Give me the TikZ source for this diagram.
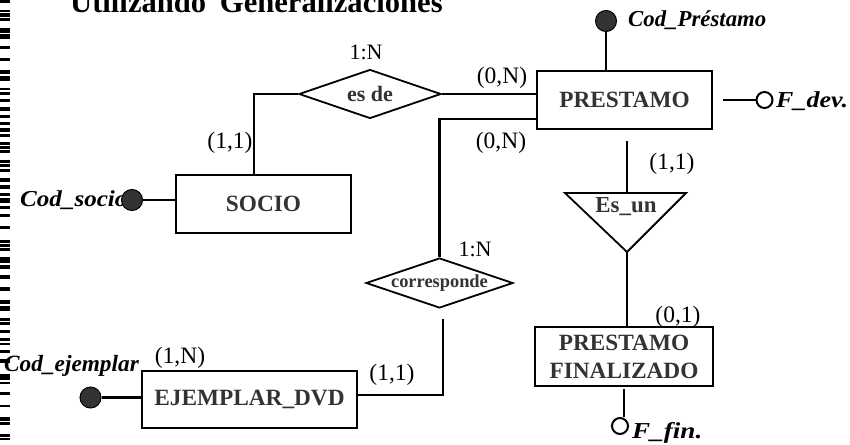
\documentclass[tikz,border=0pt]{standalone}
\usepackage{fontspec}
\setmainfont{Liberation Serif}
\usetikzlibrary{shapes.geometric}
\definecolor{ink}{HTML}{333333}
\tikzset{
  entity/.style={draw, line width=1.8pt, fill=white, text=ink, align=center, inner sep=0pt,
    font=\fontsize{23.3}{28}\selectfont\bfseries},
  relation/.style={draw, diamond, aspect=3, line width=1.8pt, fill=white, text=ink, inner sep=0pt},
  link/.style={line width=2.8pt},
  shapeline/.style={line width=1.8pt, line join=miter},
  card/.style={inner sep=0pt, font=\fontsize{23.5}{24}\selectfont},
  attr/.style={inner sep=0pt, font=\fontsize{22.8}{24}\selectfont\bfseries\itshape},
  keydot/.style={circle, draw, line width=1pt, fill=ink, minimum size=21pt, inner sep=0pt},
  optdot/.style={circle, draw, line width=2pt, fill=white, minimum size=16pt, inner sep=0pt},
}
\begin{document}
\begin{tikzpicture}[x=1pt,y=-1pt]
\useasboundingbox (0,0) rectangle (850,444);

% scan marks along the left edge
\foreach \a/\b in {0/3,10/12,13/17,18/21,28/33,34/39,46/49,58/61,70/74,76/81,88/90,92/95,99/102,
  107/111,115/118,122/125,128/132,134/137,142/145,146/149,150/153,160/163,164/167,169/172,
  178/182,185/189,193/196,198/203,206/209,214/217,226/229,240/243,244/247,248/251,257/263,
  265/269,275/279,287/291,300/304,306/311,318/321,322/325,330/333,338/341,343/345,350/353,
  359/363,374/380,382/384,392/395,405/407,417/421,422/425,434/437,438/440}
  \fill (0,\a) rectangle (10,\b);

% title
\node[anchor=base west, inner sep=0pt, font=\fontsize{30.6}{31}\selectfont\bfseries] (title)
  at (70,12.7) {Utilizando\hspace{0.45em}Generalizaciones};

% entities
\node[entity, minimum width=175pt, minimum height=58pt] (prestamo) at (624.5,100) {PRESTAMO};
\node[entity, minimum width=175pt, minimum height=58pt] (socio) at (263.5,204) {SOCIO};
\node[entity, minimum width=215pt, minimum height=57pt] (ejemplar) at (249.5,399.5) {EJEMPLAR\_DVD};
\node[entity, minimum width=178pt, minimum height=59pt] (finalizado) at (624,356.5) {PRESTAMO\\FINALIZADO};

% relationships
\node[relation, minimum width=142pt, minimum height=49pt,
  font=\fontsize{22}{24}\selectfont\bfseries] (esde) at (370,94) {es de};
\node[relation, minimum width=147pt, minimum height=50pt,
  font=\fontsize{18.4}{20}\selectfont\bfseries] (corresp) at (439.5,283) {corresponde};

% generalisation triangle
\coordinate (esun-left) at (565,193);
\coordinate (esun-right) at (686,193);
\coordinate (esun-apex) at (627,252);
\coordinate (esun-top) at (627,193);
\draw[shapeline] (esun-left) -- (esun-right) -- (esun-apex) -- cycle;
\node[inner sep=0pt, text=ink, font=\fontsize{22.9}{24}\selectfont\bfseries] (esun) at (626,207) {Es\_un};

% connectors
\draw[link] (esde.west) -| (socio.north -| 254,0);
\draw[link] (esde.east) -- (prestamo.west |- esde.east);
\draw[link] (prestamo.west |- 0,119) -| (corresp.north);
\coordinate (corresp-out) at ([xshift=3.5pt,yshift=-10pt]corresp.south);
\draw[link] (corresp-out) |- (ejemplar.east |- 0,395);
\coordinate (prestamo-out) at ([xshift=2.5pt,yshift=-11pt]prestamo.south);
\draw[link] (prestamo-out) -- (esun-top);
\draw[link] (esun-apex) -- (finalizado.north -| esun-apex);

% attributes
\node[attr, anchor=west] (lprest) at (628,20) {Cod\_Préstamo};
\node[keydot] (kprest) at (606,21) {};
\draw[link] (kprest) -- (kprest |- prestamo.north);

\coordinate (fdev-in) at ([xshift=10pt]prestamo.east);
\node[optdot] (fdev) at (764.5,100) {};
\draw[link] (fdev-in) -- (fdev.west);
\node[attr, anchor=west] (lfdev) at (776,101) {\scalebox{1.14}[1]{F\_dev.}};

\node[attr, anchor=west] (lsocio) at (20,200) {\scalebox{1.1}[1]{Cod\_socio}};
\node[keydot] (ksocio) at (132,200) {};
\draw[link] (ksocio) -- (socio.west |- ksocio);

\node[attr, anchor=west, font=\fontsize{23.3}{24}\selectfont\bfseries\itshape] (lejem) at (4,366) {Cod\_ejemplar};
\node[keydot] (kejem) at (90.5,397.5) {};
\draw[link] (kejem) -- (ejemplar.west |- kejem);

\node[optdot] (ffin) at (620,426) {};
\coordinate (fin-out) at ([yshift=-2pt]finalizado.south);
\draw[link] (fin-out) -- (fin-out |- ffin.north);
\node[attr, anchor=west] (lffin) at (632,433) {\scalebox{1.19}[1]{F\_fin.}};

% cardinalities
\node[card, font=\fontsize{22}{24}\selectfont] (c1) at (366,52) {1:N};
\node[card] (c2) at (502,78) {(0,N)};
\node[card] (c3) at (501,143) {(0,N)};
\node[card] (c4) at (230,143) {(1,1)};
\node[card] (c5) at (672,164) {(1,1)};
\node[card] (c6) at (678,317) {(0,1)};
\node[card, font=\fontsize{22}{24}\selectfont] (c7) at (475,249) {1:N};
\node[card] (c8) at (180,358) {(1,N)};
\node[card] (c9) at (392,375) {(1,1)};
\end{tikzpicture}
\end{document}
